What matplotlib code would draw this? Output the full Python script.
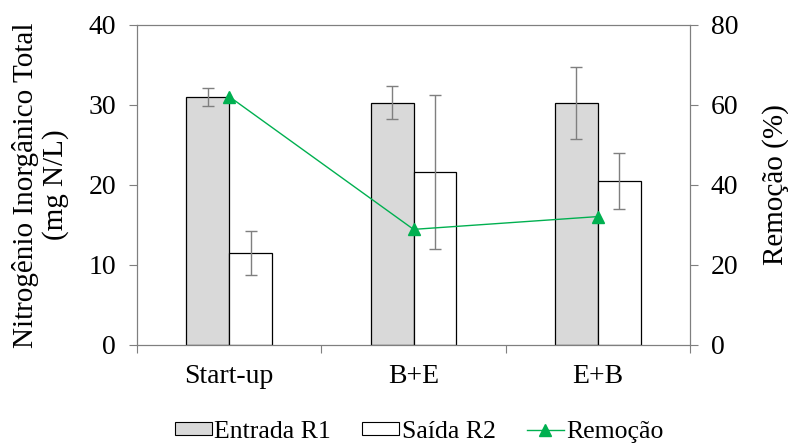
import numpy as np
import matplotlib.pyplot as plt
from matplotlib.patches import Patch
from matplotlib.lines import Line2D

plt.rcParams['font.family'] = ['Liberation Serif', 'DejaVu Serif']

# data
categories = ["Start-up", "B+E", "E+B"]
entrada = [31.0, 30.3, 30.3]
entrada_err = [1.1, 2.1, 4.5]
saida = [11.5, 21.6, 20.5]
saida_err = [2.8, 9.6, 3.45]
remocao = [62.1, 28.9, 32.1]

grey = "#7f7f7f"
green = "#00B050"

fig = plt.figure(figsize=(7.88, 4.46), dpi=100)
ax = fig.add_axes([0.1739, 0.2265, 0.7018, 0.7175])
ax2 = ax.twinx()

x = np.arange(len(categories))
w = 0.232
ax.bar(x - w / 2, entrada, w, color="#d9d9d9", edgecolor="black", linewidth=0.9, zorder=2)
ax.bar(x + w / 2, saida, w, color="white", edgecolor="black", linewidth=0.9, zorder=2)
ax.errorbar(x - w / 2, entrada, yerr=entrada_err, fmt="none", ecolor=grey,
            elinewidth=1, capsize=4, capthick=1, zorder=3)
ax.errorbar(x + w / 2, saida, yerr=saida_err, fmt="none", ecolor=grey,
            elinewidth=1, capsize=4, capthick=1, zorder=3)

ax2.plot(x, remocao, color=green, marker="^", markersize=9, linewidth=1)

ax.set_xlim(-0.5, 2.5)
ax.set_ylim(0, 40)
ax2.set_ylim(0, 80)
ax.set_yticks([0, 10, 20, 30, 40])
ax2.set_yticks([0, 20, 40, 60, 80])
ax.set_xticks([-0.5, 0.5, 1.5, 2.5])
ax.set_xticklabels(["", "", "", ""])
ax.set_xticks(x, minor=True)
ax.set_xticklabels(categories, minor=True)
ax.tick_params(axis="x", which="minor", length=0, pad=14, labelsize=20)
ax.tick_params(axis="x", which="major", length=6, color=grey)

for a in (ax, ax2):
    for s in a.spines.values():
        s.set_color(grey)
    a.tick_params(axis="y", length=6, color=grey, labelsize=20, pad=9)

ax.set_ylabel("Nitrogênio Inorgânico Total\n(mg N/L)", fontsize=21, linespacing=1.15, labelpad=14)
ax2.set_ylabel("Remoção (%)", fontsize=21, labelpad=17)

handles = [
    Patch(facecolor="#d9d9d9", edgecolor="black", linewidth=0.8, label="Entrada R1"),
    Patch(facecolor="white", edgecolor="black", linewidth=0.8, label="Saída R2"),
    Line2D([], [], color=green, marker="^", markersize=9, linewidth=1, label="Remoção"),
]
fig.legend(handles=handles, loc="lower center", bbox_to_anchor=(0.532, -0.045), ncol=3,
           frameon=False, fontsize=18.5, handlelength=1.45, handletextpad=0.1,
           columnspacing=1.2, handleheight=0.4)

fig.savefig("out.png", dpi=100)
